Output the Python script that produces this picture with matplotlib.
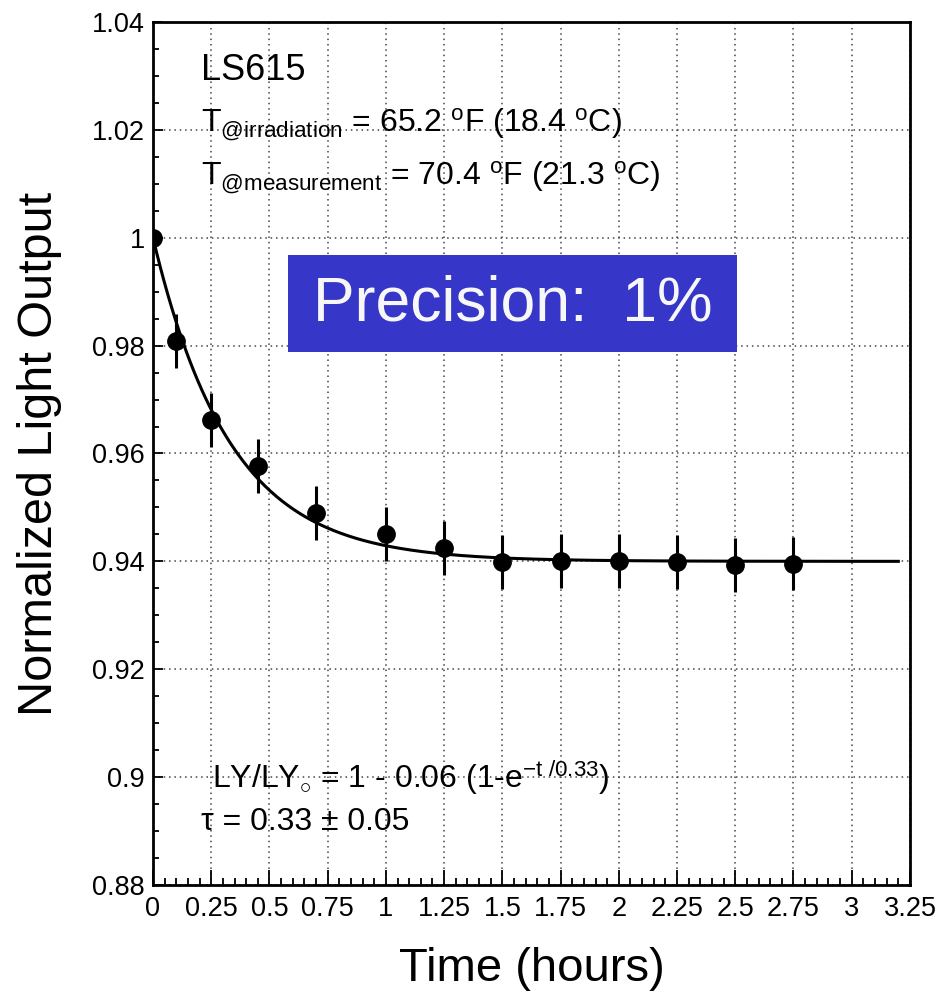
#!/usr/bin/env python3

import numpy as np
from matplotlib import pyplot as plt
from matplotlib.patches import Rectangle
from matplotlib.ticker import MultipleLocator, FormatStrFormatter

# measured light output after irradiation
time_h = [0.0, 0.1, 0.25, 0.45, 0.7, 1.0, 1.25, 1.5, 1.75, 2.0, 2.25, 2.5, 2.75]
light = [1.000, 0.9809, 0.9662, 0.9577, 0.9490, 0.9450, 0.9424, 0.9399,
         0.9400, 0.9401, 0.9399, 0.9394, 0.9396]
light_err = [0.0, 0.005, 0.005, 0.005, 0.005, 0.005, 0.005, 0.005,
             0.005, 0.005, 0.005, 0.005, 0.005]

# fit parameters: LY/LY0 = 1 - amp * (1 - exp(-t/tau))
fit_amp = 0.06
fit_tau = 0.33
fit_tau_err = 0.05
fit_tmax = 3.2


def main():
    plt.rcParams['font.family'] = ['Liberation Sans', 'DejaVu Sans']
    plt.rcParams['mathtext.fontset'] = 'custom'
    plt.rcParams['mathtext.rm'] = 'Liberation Sans'
    plt.rcParams['mathtext.it'] = 'Liberation Sans'
    plt.rcParams['mathtext.sf'] = 'Liberation Sans'

    fig = plt.figure(figsize=(9.38, 9.92), dpi=100)
    ax = fig.add_axes([0.1631, 0.1079, 0.8070, 0.8699])

    t = np.linspace(0, fit_tmax, 400)
    ax.plot(t, 1 - fit_amp * (1 - np.exp(-t / fit_tau)), color='black',
            lw=2.2, zorder=3)
    ax.errorbar(time_h, light, yerr=light_err, fmt='o', color='black',
                ms=12.5, elinewidth=2.2, capsize=0, zorder=4)

    ax.set_xlim(0, 3.25)
    ax.set_ylim(0.88, 1.04)
    ax.xaxis.set_major_locator(MultipleLocator(0.25))
    ax.xaxis.set_minor_locator(MultipleLocator(0.05))
    ax.yaxis.set_major_locator(MultipleLocator(0.02))
    ax.yaxis.set_minor_locator(MultipleLocator(0.005))
    ax.xaxis.set_major_formatter(FormatStrFormatter('%g'))
    ax.yaxis.set_major_formatter(FormatStrFormatter('%g'))
    ax.tick_params(axis='both', which='both', direction='in', width=1.3,
                   labelsize=19.5, colors='black')
    ax.tick_params(axis='x', which='major', length=11, pad=8)
    ax.tick_params(axis='x', which='minor', length=5)
    ax.tick_params(axis='y', which='major', length=7, pad=6)
    ax.tick_params(axis='y', which='minor', length=4)
    for s in ax.spines.values():
        s.set_linewidth(2)
    ax.grid(True, which='major', linestyle=(0, (1, 2.5)), color='#444444',
            lw=1.1)
    ax.set_axisbelow(True)

    ax.set_xlabel('Time (hours)', fontsize=34, labelpad=18)
    ax.set_ylabel('Normalized Light Output', fontsize=35, labelpad=21)

    # annotations
    ax.text(0.063, 0.944, 'LS615', transform=ax.transAxes, fontsize=26,
            va='center')
    ax.text(0.063, 0.881,
            r'T$_{\mathrm{@irradiation}}$ = 65.2 $^{\mathrm{o}}$F (18.4 $^{\mathrm{o}}$C)',
            transform=ax.transAxes, fontsize=23, va='center')
    ax.text(0.063, 0.819,
            r'T$_{\mathrm{@measurement}}$ = 70.4 $^{\mathrm{o}}$F (21.3 $^{\mathrm{o}}$C)',
            transform=ax.transAxes, fontsize=23, va='center')
    ax.text(0.078, 0.125,
            r'LY/LY$_{\circ}$ = 1 - %g (1-e$^{\mathrm{-t\ /%g}}$)' % (fit_amp, fit_tau),
            transform=ax.transAxes, fontsize=23, va='center')
    ax.text(0.063, 0.073,
            '\u03c4 = %g \u00b1 %g' % (fit_tau, fit_tau_err),
            transform=ax.transAxes, fontsize=23, va='center')

    ax.add_patch(Rectangle((0.1783, 0.6176), 0.593, 0.1124,
                           transform=ax.transAxes, facecolor='#3636c9',
                           edgecolor='none', zorder=5))
    ax.text(0.1783 + 0.593 / 2, 0.6176 + 0.1124 / 2, 'Precision:  1%',
            transform=ax.transAxes, fontsize=45, color='#f7f7f7',
            ha='center', va='center', zorder=6)

    fig.savefig('out.png', dpi=100)


if __name__ == '__main__':
    main()
